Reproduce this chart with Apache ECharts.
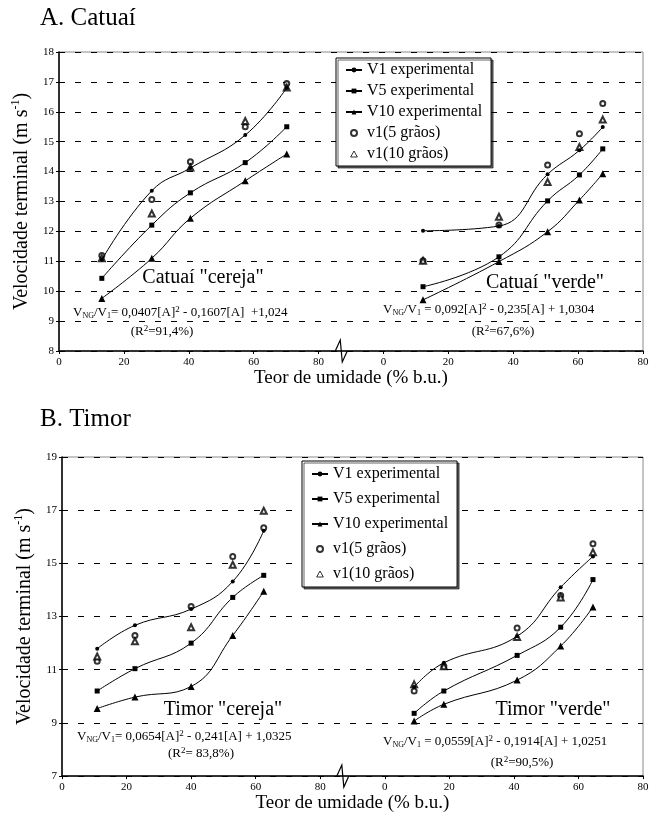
<!DOCTYPE html>
<html>
<head>
<meta charset="utf-8">
<script src="https://cdn.jsdelivr.net/npm/echarts@6/dist/echarts.min.js"></script>
<style>
	html, body { margin: 0; padding: 0; background: #fff; }
	#chart { width: 653px; height: 814px; }
</style>
</head>
<body>
<div id="chart"></div>
<script>
// right half of each panel is drawn on the same axis, shifted by this much
var BREAK_OFFSET = 100;

// A. Catuaí - "cereja" (left) and "verde" (right)
var catuaiCerejaX   = [13.2, 28.6, 40.5, 57.4, 70.2];
var catuaiCerejaV1  = [11.05, 13.36, 14.12, 15.22, 16.8];
var catuaiCerejaV5  = [10.43, 12.21, 13.29, 14.3, 15.5];
var catuaiCerejaV10 = [9.76, 11.1, 12.44, 13.69, 14.59];
var catuaiCerejaG5  = [11.19, 13.07, 14.33, 15.5, 16.95];
var catuaiCerejaG10 = [11.1, 12.6, 14.14, 15.69, 16.81];

var catuaiVerdeX   = [12.2, 35.6, 50.6, 60.4, 67.6];
var catuaiVerdeV1  = [12.02, 12.18, 13.91, 14.71, 15.49];
var catuaiVerdeV5  = [10.15, 11.15, 13.02, 13.89, 14.76];
var catuaiVerdeV10 = [9.71, 10.99, 11.99, 13.05, 13.93];
var catuaiVerdeG5  = [11.02, 12.21, 14.22, 15.27, 16.28];
var catuaiVerdeG10 = [11.02, 12.49, 13.65, 14.82, 15.74];

// B. Timor
var timorCerejaX   = [10.9, 22.6, 40, 52.9, 62.5];
var timorCerejaV1  = [11.79, 12.67, 13.28, 14.32, 16.23];
var timorCerejaV5  = [10.2, 11.04, 12.0, 13.72, 14.55];
var timorCerejaV10 = [9.54, 9.97, 10.37, 12.29, 13.95];
var timorCerejaG5  = [11.32, 12.29, 13.38, 15.26, 16.34];
var timorCerejaG10 = [11.5, 12.07, 12.6, 14.95, 16.98];

var timorVerdeX   = [9.1, 18.3, 41, 54.5, 64.5];
var timorVerdeV1  = [10.35, 11.26, 12.26, 14.1, 15.26];
var timorVerdeV5  = [9.36, 10.2, 11.54, 12.6, 14.39];
var timorVerdeV10 = [9.07, 9.7, 10.61, 11.89, 13.36];
var timorVerdeG5  = [10.2, 11.13, 12.57, 13.79, 15.74];
var timorVerdeG10 = [10.45, 11.13, 12.23, 13.72, 15.42];

var seriesNames = ['V1 experimental', 'V5 experimental', 'V10 experimental', 'v1(5 grãos)', 'v1(10 grãos)'];

var serif = '"Liberation Serif", "DejaVu Serif", serif';

function pairs(xs, ys, offset) {
	var out = [];
	for (var i = 0; i < xs.length; i++) out.push([xs[i] + offset, ys[i]]);
	return out;
}

function lineSeries(name, idx, data, symbol, size) {
	return {
		name: name, type: 'line', xAxisIndex: idx, yAxisIndex: idx,
		data: data, smooth: 0.45, symbol: symbol, symbolSize: size,
		showSymbol: true, silent: true,
		lineStyle: { color: '#000', width: 1 },
		itemStyle: { color: '#000', borderWidth: 0 }
	};
}

function dotSeries(name, idx, data, symbol, size) {
	return {
		name: name, type: 'scatter', xAxisIndex: idx, yAxisIndex: idx,
		data: data, symbol: symbol, symbolSize: size, silent: true,
		itemStyle: { color: '#000', borderColor: '#000', borderWidth: 0.9 }
	};
}

function panelSeries(idx, sets) {
	var out = [];
	sets.forEach(function (s) {
		var off = s.right ? BREAK_OFFSET : 0;
		out.push(lineSeries(seriesNames[0], idx, pairs(s.x, s.v1, off), 'circle', 4));
		out.push(lineSeries(seriesNames[1], idx, pairs(s.x, s.v5, off), 'rect', 5));
		out.push(lineSeries(seriesNames[2], idx, pairs(s.x, s.v10, off), 'triangle', 7));
		out.push(dotSeries(seriesNames[3], idx, pairs(s.x, s.g5, off), 'emptyCircle', 5));
		out.push(dotSeries(seriesNames[4], idx, pairs(s.x, s.g10, off), 'emptyTriangle', 6));
	});
	return out;
}

var allSeries = []
	.concat(panelSeries(0, [
		{ x: catuaiCerejaX, v1: catuaiCerejaV1, v5: catuaiCerejaV5, v10: catuaiCerejaV10, g5: catuaiCerejaG5, g10: catuaiCerejaG10 },
		{ x: catuaiVerdeX, v1: catuaiVerdeV1, v5: catuaiVerdeV5, v10: catuaiVerdeV10, g5: catuaiVerdeG5, g10: catuaiVerdeG10, right: true }
	]))
	.concat(panelSeries(1, [
		{ x: timorCerejaX, v1: timorCerejaV1, v5: timorCerejaV5, v10: timorCerejaV10, g5: timorCerejaG5, g10: timorCerejaG10 },
		{ x: timorVerdeX, v1: timorVerdeV1, v5: timorVerdeV5, v10: timorVerdeV10, g5: timorVerdeG5, g10: timorVerdeG10, right: true }
	]));

function xAxisFor(idx, gap) {
	return {
		type: 'value', gridIndex: idx, min: 0, max: 180, interval: 20,
		name: 'Teor de umidade (% b.u.)', nameLocation: 'middle', nameGap: gap,
		nameTextStyle: { fontFamily: serif, fontSize: 19, color: '#000' },
		axisLine: { lineStyle: { color: '#000', width: 1.5 } },
		axisTick: { length: 3, lineStyle: { color: '#000' } },
		axisLabel: {
			fontFamily: serif, fontSize: 11, color: '#000', margin: 6,
			formatter: function (v) { return v <= 80 ? v : v - BREAK_OFFSET; }
		},
		splitLine: { show: false }
	};
}

function yAxisFor(idx, min, max, step, gap) {
	return {
		type: 'value', gridIndex: idx, min: min, max: max, interval: step,
		name: '{a|Velocidade terminal (m s}{s|-1}{a|)}',
		nameLocation: 'middle', nameGap: gap, nameRotate: 90,
		nameTextStyle: {
			fontFamily: serif, fontSize: 20, color: '#000',
			rich: {
				a: { fontFamily: serif, fontSize: 20, color: '#000', lineHeight: 22, verticalAlign: 'bottom' },
				s: { fontFamily: serif, fontSize: 12, color: '#000', lineHeight: 22, verticalAlign: 'top' }
			}
		},
		axisLine: { show: true, lineStyle: { color: '#000', width: 1.5 } },
		axisTick: { show: true, length: 3, lineStyle: { color: '#000' } },
		axisLabel: { fontFamily: serif, fontSize: 11, color: '#000', margin: 5 },
		splitLine: { show: true, lineStyle: { color: '#000', type: [6, 10], width: 1 } }
	};
}

// the open triangle keeps its shape in the legend box
var legendItems = [
	seriesNames[0], seriesNames[1], seriesNames[2], seriesNames[3],
	{
		name: seriesNames[4], icon: 'path://M5,0L10,9L0,9Z',
		itemStyle: { color: '#fff', borderColor: '#000', borderWidth: 1 }
	}
];

function legendFor(left, top, gap, pad) {
	return {
		data: legendItems, orient: 'vertical', left: left, top: top,
		itemGap: gap, itemWidth: 16, itemHeight: 6, padding: pad,
		selectedMode: false, backgroundColor: '#fff',
		borderColor: '#000', borderWidth: 1, symbolKeepAspect: true,
		shadowColor: 'rgba(0,0,0,0.6)', shadowOffsetX: 2, shadowOffsetY: 2, shadowBlur: 0,
		textStyle: { fontFamily: serif, fontSize: 16, color: '#000' }
	};
}

var eqRich = {
	t: { fontFamily: serif, fontSize: 13, fill: '#000', lineHeight: 18, verticalAlign: 'middle' },
	sub: { fontFamily: serif, fontSize: 8, fill: '#000', lineHeight: 18, verticalAlign: 'bottom', padding: [0, 0, 2, 0] },
	sup: { fontFamily: serif, fontSize: 9, fill: '#000', lineHeight: 18, verticalAlign: 'top', padding: [1, 0, 0, 0] }
};

function textEl(x, y, text, size, align) {
	return {
		type: 'text', x: x, y: y, silent: true, z: 100,
		style: { text: text, fill: '#000', font: size + 'px ' + serif, align: align || 'left', verticalAlign: 'middle' }
	};
}

function richEl(x, y, text, align) {
	return {
		type: 'text', x: x, y: y, silent: true, z: 100,
		style: { text: text, rich: eqRich, fill: '#000', font: '13px ' + serif, align: align || 'left', verticalAlign: 'middle' }
	};
}

var graphics = [
	textEl(40, 18, 'A. Catuaí', 25),
	textEl(40, 419, 'B. Timor', 25),
	textEl(203, 278, 'Catuaí "cereja"', 20, 'center'),
	textEl(545, 283, 'Catuaí "verde"', 20, 'center'),
	textEl(223, 710, 'Timor "cereja"', 20, 'center'),
	textEl(553, 710, 'Timor "verde"', 20, 'center'),
	richEl(73, 313, '{t|V}{sub|NG}{t|/V}{sub|1}{t|= 0,0407[A]}{sup|2}{t| - 0,1607[A]  +1,024}'),
	richEl(162, 332, '{t|(R}{sup|2}{t|=91,4%)}', 'center'),
	richEl(383, 310, '{t|V}{sub|NG}{t|/V}{sub|1}{t| = 0,092[A]}{sup|2}{t| - 0,235[A] + 1,0304}'),
	richEl(503, 332, '{t|(R}{sup|2}{t|=67,6%)}', 'center'),
	richEl(77, 737, '{t|V}{sub|NG}{t|/V}{sub|1}{t|= 0,0654[A]}{sup|2}{t| - 0,241[A] + 1,0325}'),
	richEl(201, 754, '{t|(R}{sup|2}{t|= 83,8%)}', 'center'),
	richEl(383, 742, '{t|V}{sub|NG}{t|/V}{sub|1}{t| = 0,0559[A]}{sup|2}{t| - 0,1914[A] + 1,0251}'),
	richEl(522, 763, '{t|(R}{sup|2}{t|=90,5%)}', 'center')
];

var chart = echarts.init(document.getElementById('chart'), null, { renderer: 'canvas' });

var option = {
	backgroundColor: '#fff',
	animation: false,
	grid: [
		{ left: 59, top: 52, width: 584, height: 299, show: true, borderColor: '#8a8a8a', borderWidth: 1, backgroundColor: 'transparent' },
		{ left: 62, top: 457, width: 581, height: 320, show: true, borderColor: '#8a8a8a', borderWidth: 1, backgroundColor: 'transparent' }
	],
	xAxis: [xAxisFor(0, 17), xAxisFor(1, 13)],
	yAxis: [yAxisFor(0, 8, 18, 1, 22), yAxisFor(1, 7, 19, 2, 25)],
	legend: [
		legendFor(336, 58, 5, [4, 9, 4, 9]),
		legendFor(302, 461, 9, [5, 9, 5, 9])
	],
	series: allSeries,
	graphic: graphics
};

chart.setOption(option);

// axis break glyph drawn on each x axis, between 80 and the second 0
function breakGlyph(idx, v, ymin) {
	var p = chart.convertToPixel({ xAxisIndex: idx, yAxisIndex: idx }, [v, ymin]);
	var x = p[0], y = p[1];
	return {
		type: 'polyline', silent: true, z: 110,
		shape: { points: [[x - 6, y], [x - 1, y - 11], [x + 1, y + 11], [x + 6, y]] },
		style: { stroke: '#000', lineWidth: 1.2, fill: null }
	};
}
chart.setOption({
	graphic: graphics.concat([breakGlyph(0, 87, 8), breakGlyph(1, 87, 7)])
});
</script>
</body>
</html>
